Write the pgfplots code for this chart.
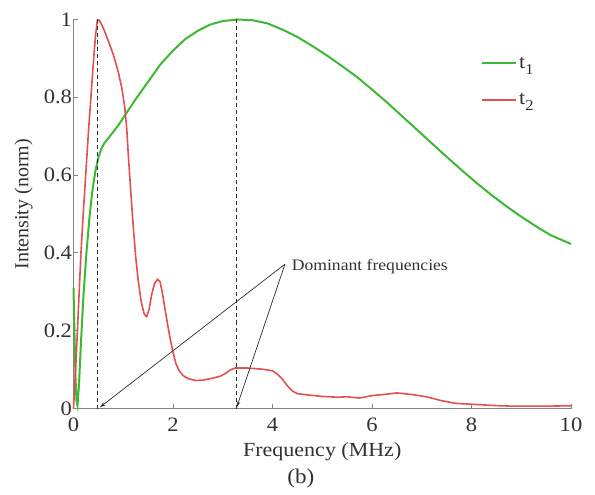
\documentclass[border=0pt]{standalone}
\usepackage{fontspec}
\setmainfont[FakeStretch=1.1]{Liberation Serif}
\newfontfamily\ylfont{Liberation Serif}
\usepackage{pgfplots}
\pgfplotsset{compat=1.18}
\usetikzlibrary{arrows.meta}
\definecolor{tg}{RGB}{60,185,50}
\definecolor{tr}{RGB}{228,80,80}
\definecolor{txt}{RGB}{50,50,50}
\definecolor{axc}{RGB}{130,130,130}
\definecolor{dsh}{RGB}{45,45,45}
\begin{document}
\begin{tikzpicture}
\begin{axis}[
  scale only axis, width=497.5bp, height=389bp,
  xmin=0, xmax=10, ymin=0, ymax=1,
  axis x line=bottom, axis y line=left,
  axis line style={-, axc, line width=0.8bp},
  tick align=inside, major tick length=5bp,
  tick style={axc, line width=0.8bp},
  xtick={0,2,4,6,8,10}, xticklabels={0,2,4,6,8,10},
  ytick={0,0.2,0.4,0.6,0.8,1}, yticklabels={0,0.2,0.4,0.6,0.8,1},
  tick label style={font=\fontsize{20.5bp}{21bp}\selectfont, text=txt},
  xticklabel style={yshift=-6bp},
  yticklabel style={xshift=2bp},
  xlabel={Frequency (MHz)},
  ylabel={\ylfont Intensity (norm)},
  label style={font=\fontsize{20bp}{20bp}\selectfont, text=txt},
  x label style={at={([yshift=-48bp]axis description cs:0.5,0)}, anchor=base},
  y label style={at={([xshift=-50bp]axis description cs:0,0.525)}, anchor=center},
  clip=false,
  legend style={draw=none, fill=none, at={(axis cs:8.13,0.915)}, anchor=north west,
    font=\fontsize{20bp}{20bp}\selectfont, text=txt, row sep=20bp},
  legend cell align=left,
  legend image code/.code={\draw[#1] (0bp,0bp) -- (34bp,0bp);},
]
\coordinate (O) at (axis cs:0,0);
\addplot[tg, line width=2bp] coordinates {
(0,0.31) (0.02,0.19) (0.04,0.08) (0.06,0.02) (0.08,0.008) (0.11,0.06)
(0.15,0.17) (0.2,0.29) (0.26,0.40) (0.32,0.49) (0.38,0.56) (0.44,0.61)
(0.5,0.645) (0.56,0.668) (0.62,0.682) (0.75,0.703) (0.9,0.728) (1.05,0.757)
(1.25,0.795) (1.5,0.84) (1.75,0.885) (2.0,0.92) (2.25,0.95) (2.5,0.971)
(2.75,0.987) (3.0,0.996) (3.3,1.0) (3.6,0.998) (3.9,0.99) (4.2,0.974)
(4.5,0.955) (4.8,0.932) (5.1,0.907) (5.4,0.88) (5.7,0.852) (6.0,0.82)
(6.3,0.787) (6.6,0.752) (6.9,0.717) (7.2,0.682) (7.5,0.647) (7.8,0.613)
(8.1,0.58) (8.4,0.549) (8.7,0.52) (9.0,0.493) (9.3,0.468) (9.6,0.445) (10.0,0.423)
};
\addlegendentry{t\raisebox{-6bp}{\fontsize{15bp}{15bp}\selectfont 1}}
\addplot[tr, line width=1.6bp] coordinates {
(0,0) (0.05,0.12) (0.1,0.26) (0.15,0.40) (0.2,0.51) (0.25,0.61) (0.3,0.71)
(0.35,0.80) (0.4,0.89) (0.44,0.955) (0.48,0.998) (0.52,0.998) (0.6,0.978)
(0.7,0.945) (0.8,0.91) (0.9,0.865) (0.97,0.825) (1.03,0.775) (1.07,0.72)
(1.1,0.655) (1.15,0.56) (1.2,0.47) (1.25,0.39) (1.3,0.33) (1.36,0.275)
(1.42,0.243) (1.47,0.236) (1.52,0.255) (1.57,0.292) (1.63,0.322) (1.69,0.332)
(1.74,0.326) (1.79,0.295) (1.84,0.255) (1.9,0.21) (1.95,0.175) (2.0,0.145)
(2.06,0.115) (2.12,0.098) (2.2,0.085) (2.3,0.077) (2.45,0.072) (2.6,0.073)
(2.8,0.078) (2.95,0.083) (3.05,0.09) (3.15,0.099) (3.25,0.104) (3.5,0.104)
(3.8,0.101) (4.0,0.097) (4.1,0.088) (4.2,0.075) (4.3,0.058) (4.4,0.045)
(4.5,0.038) (4.7,0.035) (5.0,0.031) (5.3,0.029) (5.5,0.03) (5.75,0.027)
(6.0,0.033) (6.3,0.037) (6.5,0.04) (6.8,0.036) (7.1,0.03) (7.4,0.02)
(7.7,0.013) (8.0,0.011) (8.4,0.008) (8.8,0.006) (9.5,0.006) (10,0.007)
};
\addlegendentry{t\raisebox{-6bp}{\fontsize{15bp}{15bp}\selectfont 2}}
\addplot[dsh, line width=0.9bp, dash pattern=on 4bp off 3bp, forget plot] coordinates {(0.49,0) (0.49,1)};
\addplot[dsh, line width=0.9bp, dash pattern=on 4bp off 3bp, forget plot] coordinates {(3.28,0) (3.28,1)};
\draw[dsh, line width=0.7bp, -{Stealth[length=6bp,width=3.5bp]}] (axis cs:4.25,0.371) -- (axis cs:0.53,0.003);
\draw[dsh, line width=0.7bp, -{Stealth[length=6bp,width=3.5bp]}] (axis cs:4.25,0.371) -- (axis cs:3.28,0.003);
\node[anchor=base west, text=txt, font=\fontsize{16bp}{16bp}\selectfont, inner sep=0pt] at (axis cs:4.386,0.356) {Dominant frequencies};
\node[text=txt, font=\fontsize{21bp}{21bp}\selectfont, anchor=center] at ([yshift=-69.5bp]axis cs:4.57,0) {(b)};
\end{axis}
\pgfresetboundingbox
\path[use as bounding box] ([shift={(-73.5bp,-86.5bp)}]O) rectangle ([shift={(521.5bp,408.5bp)}]O);
\end{tikzpicture}
\end{document}
